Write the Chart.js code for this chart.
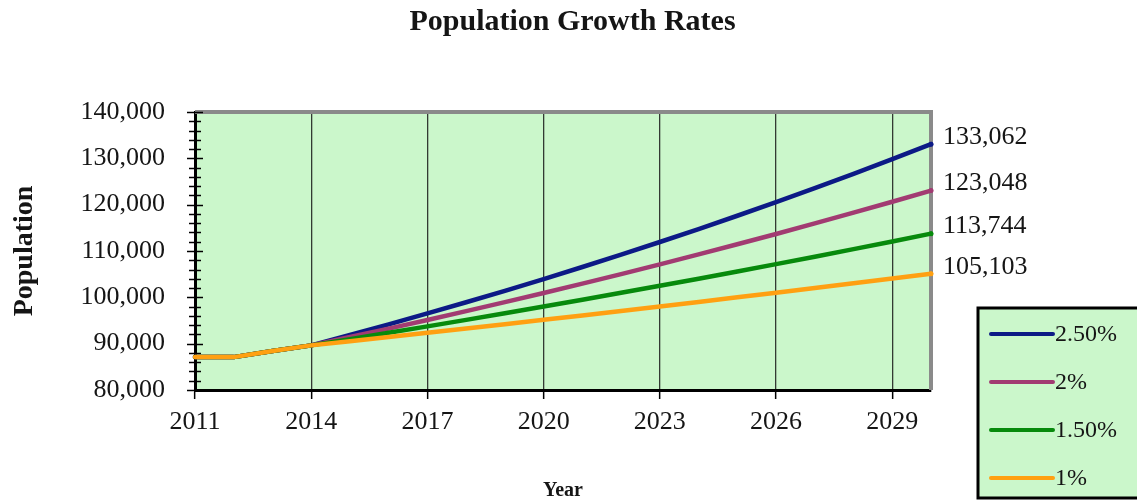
<!DOCTYPE html>
<html>
<head>
<meta charset="utf-8">
<title>Population Growth Rates</title>
<script src="https://cdn.jsdelivr.net/npm/chart.js@4.4.1/dist/chart.umd.min.js"></script>
<style>
  html, body { margin: 0; padding: 0; background: #ffffff; }
  #wrap { position: relative; width: 1137px; height: 501px; }
</style>
</head>
<body>
<div id="wrap"><canvas id="chart" width="1137" height="501"></canvas></div>
<script>
// Projection years
const years = [2011, 2012, 2013, 2014, 2015, 2016, 2017, 2018, 2019, 2020,
               2021, 2022, 2023, 2024, 2025, 2026, 2027, 2028, 2029, 2030];

// Series names shown in the legend
const seriesLabels = ['2.50%', '2%', '1.50%', '1%'];

// Projected population under each annual growth rate
const pop250 = [87100, 87100, 88400, 89634, 91875, 94172, 96526, 98939, 101413, 103948,
                106547, 109210, 111941, 114739, 117608, 120548, 123561, 126651, 129817, 133062];
const pop200 = [87100, 87100, 88400, 89634, 91427, 93255, 95120, 97023, 98963, 100942,
                102961, 105021, 107121, 109263, 111449, 113678, 115951, 118270, 120636, 123048];
const pop150 = [87100, 87100, 88400, 89634, 90979, 92343, 93728, 95134, 96561, 98010,
                99480, 100972, 102487, 104024, 105584, 107168, 108776, 110407, 112063, 113744];
const pop100 = [87100, 87100, 88400, 89634, 90530, 91436, 92350, 93274, 94206, 95148,
                96100, 97061, 98031, 99012, 100002, 101002, 102012, 103032, 104062, 105103];

// Year ticks along the horizontal axis
const xTickYears = [2011, 2014, 2017, 2020, 2023, 2026, 2029];

const seriesValues = [pop250, pop200, pop150, pop100];
const seriesColors = ['#0c1a86', '#a23b72', '#078a0c', '#ffa012'];
const plotFill = '#cbf7cb';
const serif = '"Liberation Serif", "Times New Roman", serif';
const inkColor = '#151515';

const fmt = v => Number(v).toLocaleString('en-US');

// Value labels at the right end of each line
const endValues = seriesValues.map(s => s[s.length - 1]);

// Plot background, frame and y-axis tick marks crossing the axis
const plotFrame = {
  id: 'plotFrame',
  beforeDraw(chart) {
    const { ctx, chartArea: a } = chart;
    ctx.save();
    ctx.fillStyle = plotFill;
    ctx.fillRect(a.left, a.top, a.right - a.left, a.bottom - a.top);
    ctx.restore();
  },
  beforeDatasetsDraw(chart) {
    const { ctx, chartArea: a, scales } = chart;
    ctx.save();
    // grey frame on top and right
    ctx.strokeStyle = '#8a8a8a';
    ctx.lineWidth = 4;
    ctx.beginPath();
    ctx.moveTo(a.left, a.top);
    ctx.lineTo(a.right, a.top);
    ctx.lineTo(a.right, a.bottom);
    ctx.stroke();
    // tick marks on the value axis
    const y = scales.y;
    ctx.strokeStyle = '#000';
    ctx.lineWidth = 1.5;
    y.ticks.forEach(t => {
      const py = Math.round(y.getPixelForValue(t.value)) + 0.5;
      const half = t.value % 10000 === 0 ? 8 : 6;
      ctx.beginPath();
      ctx.moveTo(a.left - half, py);
      ctx.lineTo(a.left + half, py);
      ctx.stroke();
    });
    ctx.restore();
  }
};

// Boxed legend in the lower right corner
const boxLegend = {
  id: 'boxLegend',
  afterDraw(chart) {
    const { ctx } = chart;
    const left = 978, top = 308, width = 170, height = 190;
    ctx.save();
    ctx.fillStyle = plotFill;
    ctx.fillRect(left, top, width, height);
    ctx.strokeStyle = '#000';
    ctx.lineWidth = 3;
    ctx.strokeRect(left, top, width, height);
    ctx.font = '24px ' + serif;
    ctx.textBaseline = 'middle';
    ctx.textAlign = 'left';
    chart.data.datasets.forEach((ds, i) => {
      const rowY = top + 26 + i * 48;
      ctx.strokeStyle = ds.borderColor;
      ctx.lineWidth = 4;
      ctx.lineCap = 'round';
      ctx.beginPath();
      ctx.moveTo(left + 13, rowY);
      ctx.lineTo(left + 75, rowY);
      ctx.stroke();
      ctx.fillStyle = inkColor;
      ctx.fillText(ds.label, left + 77, rowY + 1);
    });
    ctx.restore();
  }
};

const datasets = seriesLabels.map((label, i) => ({
  label,
  data: seriesValues[i],
  borderColor: seriesColors[i],
  backgroundColor: seriesColors[i],
  borderWidth: 4.5,
  borderCapStyle: 'round',
  borderJoinStyle: 'round',
  tension: 0,
  fill: false,
  clip: false,
  order: seriesLabels.length - i,
  pointRadius: ctx => ctx.dataIndex === years.length - 1 ? 2.5 : 0,
  pointHoverRadius: 0,
  pointBorderWidth: 0
}));

new Chart(document.getElementById('chart'), {
  type: 'line',
  data: { labels: years, datasets },
  plugins: [plotFrame, boxLegend],
  options: {
    responsive: false,
    animation: false,
    devicePixelRatio: 1,
    layout: { padding: { left: 8, right: 0, top: 0, bottom: 0 } },
    plugins: {
      legend: { display: false },
      tooltip: { enabled: false },
      title: {
        display: true,
        text: 'Population Growth Rates',
        color: inkColor,
        font: { family: serif, size: 30, weight: 'bold' },
        padding: { top: 4, bottom: 72 }
      }
    },
    scales: {
      x: {
        type: 'linear',
        min: 2011,
        max: 2030,
        afterBuildTicks: s => { s.ticks = xTickYears.map(v => ({ value: v })); },
        grid: { color: '#333a33', lineWidth: 1.3, drawTicks: true, tickLength: 9, tickColor: '#000', tickWidth: 1.5 },
        border: { color: '#000', width: 3 },
        ticks: {
          autoSkip: false, maxRotation: 0, padding: 8, color: inkColor,
          font: { family: serif, size: 26 },
          callback: v => String(v)
        },
        title: {
          display: true, text: 'Year', color: inkColor, padding: 0,
          font: { family: serif, size: 20, weight: 'bold', lineHeight: 1 }
        },
        afterFit: s => { s.height = 111; }
      },
      y: {
        min: 80000,
        max: 140000,
        grid: { display: true, drawOnChartArea: false, drawTicks: false },
        border: { color: '#000', width: 3 },
        ticks: {
          stepSize: 2000, autoSkip: false, padding: 30, color: inkColor,
          font: { family: serif, size: 26 },
          callback: v => (v % 10000 === 0 ? fmt(v) : '')
        },
        title: {
          display: true, text: 'Population', color: inkColor, padding: 0,
          font: { family: serif, size: 28, weight: 'bold' }
        },
        afterFit: s => { s.width = 187; }
      },
      yEnd: {
        position: 'right',
        min: 80000,
        max: 140000,
        afterBuildTicks: s => { s.ticks = endValues.map(v => ({ value: v })); },
        grid: { display: false, drawTicks: false },
        border: { display: false },
        ticks: {
          autoSkip: false, padding: 12, labelOffset: -7, color: inkColor,
          font: { family: serif, size: 26 },
          callback: v => fmt(v)
        },
        afterFit: s => { s.width = 206; }
      }
    }
  }
});
</script>
</body>
</html>
